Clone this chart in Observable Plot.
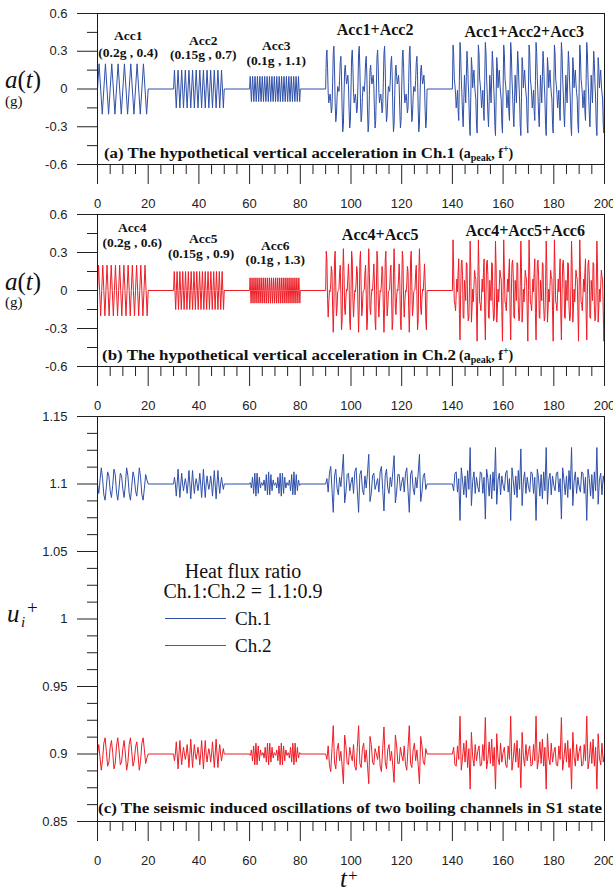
<!DOCTYPE html>
<html><head><meta charset="utf-8">
<script src="https://cdn.jsdelivr.net/npm/d3@7"></script>
<script src="https://cdn.jsdelivr.net/npm/@observablehq/plot@0.6"></script>
<style>
body{margin:0;background:#fff;}
#chart{position:relative;width:613px;height:888px;overflow:hidden;background:#fff;}
#chart svg{position:absolute;left:0;overflow:visible;}
</style></head><body><div id="chart"></div>
<script>
// ---------- axis ticks and labels ----------
const xMajor = [0,20,40,60,80,100,120,140,160,180,200];
const xLabels = ["0","20","40","60","80","100","120","140","160","180","200"];
const xMinor = [5,10,15,25,30,35,45,50,55,65,70,75,85,90,95,105,110,115,125,130,135,145,150,155,165,170,175,185,190,195];
const aMajor = [-0.6,-0.3,0,0.3,0.6];
const aLabels = ["-0.6","-0.3","0","0.3","0.6"];
const aMinor = [-0.45,-0.15,0.15,0.45];
const uMajor = [0.85,0.9,0.95,1,1.05,1.1,1.15];
const uLabels = ["0.85","0.9","0.95","1","1.05","1.1","1.15"];
const uMinor = [0.8625,0.875,0.8875,0.9125,0.925,0.9375,0.9625,0.975,0.9875,1.0125,1.025,1.0375,1.0625,1.075,1.0875,1.1125,1.125,1.1375];

// ---------- panel (a): acceleration in Ch.1 (g), samples spread evenly over each segment ----------
const acc1 = [0,.2,0,-.2,0,.2,0,-.2,0,.2,0,-.2,0,.2,0,-.2,
  0,.2,0,-.2,0,.2,0,-.2,0,.2,0,-.2,0,.2,0,-.2,0];
const acc2 = [0,.15,0,-.15,0,.15,0,-.15,0,.15,0,-.15,0,.15,0,-.15,0,.15,0,-.15,0,.15,0,-.15,0,.15,0,-.15,
  0,.15,0,-.15,0,.15,0,-.15,0,.15,0,-.15,0,.15,0,-.15,0,.15,0,-.15,0,.15,0,-.15,0,.15,0,-.15,0];
const acc3 = [0,.1,0,-.1,0,.1,0,-.1,0,.1,0,-.1,0,.1,0,-.1,0,.1,0,-.1,0,.1,0,-.1,0,.1,0,-.1,0,.1,0,-.1,0,.1,0,-.1,0,.1,0,-.1,0,.1,0,-.1,
  0,.1,0,-.1,0,.1,0,-.1,0,.1,0,-.1,0,.1,0,-.1,0,.1,0,-.1,0,.1,0,-.1,0,.1,0,-.1,0,.1,0,-.1,0,.1,0,-.1,0,.1,0,-.1,0];
const acc12 = [
  0,.25,.31,.17,-.03,-.11,-.07,-.04,-.1,-.19,-.15,.05,.28,.34,.16,-.11,-.26,-.21,-.07,.02,0,-.02,.07,.21,.26,.11,-.16,-.34,-.28,-.05,.15,.19,.1,.04,.07,.11,.03,-.17,-.31,-.25,
  0,.25,.31,.17,-.03,-.11,-.07,-.04,-.1,-.19,-.15,.05,.28,.34,.16,-.11,-.26,-.21,-.07,.02,0,-.02,.07,.21,.26,.11,-.16,-.34,-.28,-.05,.15,.19,.1,.04,.07,.11,.03,-.17,-.31,-.25,
  0,.25,.31,.17,-.03,-.11,-.07,-.04,-.1,-.19,-.15,.05,.28,.34,.16,-.11,-.26,-.21,-.07,.02,0,-.02,.07,.21,.26,.11,-.16,-.34,-.28,-.05,.15,.19,.1,.04,.07,.11,.03,-.17,-.31,-.25,
  0,.25,.31,.17,-.03,-.11,-.07,-.04,-.1,-.19,-.15,.05,.28,.34,.16,-.11,-.26,-.21,-.07,.02,0,-.02,.07,.21,.26,.11,-.16,-.34,-.28,-.05,.15,.19,.1,.04,.07,.11,.03,-.17,-.31,-.25,
  0];
const acc123 = [
  0,.35,.28,.08,.03,-.04,-.15,-.09,-.01,-.17,-.25,.07,.37,.29,.08,-.04,-.2,-.3,-.1,.11,0,-.11,.1,.3,.2,.04,-.08,-.29,-.37,-.07,.25,.17,.01,.09,.15,.04,-.03,-.08,-.28,-.35,
  0,.35,.28,.08,.03,-.04,-.15,-.09,-.01,-.17,-.25,.07,.37,.29,.08,-.04,-.2,-.3,-.1,.11,0,-.11,.1,.3,.2,.04,-.08,-.29,-.37,-.07,.25,.17,.01,.09,.15,.04,-.03,-.08,-.28,-.35,
  0,.35,.28,.08,.03,-.04,-.15,-.09,-.01,-.17,-.25,.07,.37,.29,.08,-.04,-.2,-.3,-.1,.11,0,-.11,.1,.3,.2,.04,-.08,-.29,-.37,-.07,.25,.17,.01,.09,.15,.04,-.03,-.08,-.28,-.35,
  0,.35,.28,.08,.03,-.04,-.15,-.09,-.01,-.17,-.25,.07,.37,.29,.08,-.04,-.2,-.3,-.1,.11,0,-.11,.1,.3,.2,.04,-.08,-.29,-.37,-.07,.25,.17,.01,.09,.15,.04,-.03,-.08,-.28,-.35,
  0,.35,.28,.08,.03,-.04,-.15,-.09,-.01,-.17,-.25,.07,.37,.29,.08,-.04,-.2,-.3,-.1,.11,0,-.11,.1,.3,.2,.04,-.08,-.29,-.37,-.07,.25,.17,.01,.09,.15,.04,-.03,-.08,-.28,-.35,
  0,.35,.28,.08,.03,-.04,-.15,-.09,-.01,-.17,-.25,.07,.37,.29,.08,-.04,-.2,-.3,-.1,.11,0,-.11,.1,.3,.2,.04,-.08,-.29,-.37,-.07,.25,.17,.01,.09,.15,.04,-.03,-.08,-.28,-.35,
  0];

// ---------- panel (b): acceleration in Ch.2 (g) ----------
const acc4 = [0,.2,0,-.2,0,.2,0,-.2,0,.2,0,-.2,0,.2,0,-.2,0,.2,0,-.2,0,.2,0,-.2,
  0,.2,0,-.2,0,.2,0,-.2,0,.2,0,-.2,0,.2,0,-.2,0,.2,0,-.2,0,.2,0,-.2,0];
const acc5 = [0,.15,0,-.15,0,.15,0,-.15,0,.15,0,-.15,0,.15,0,-.15,0,.15,0,-.15,0,.15,0,-.15,0,.15,0,-.15,0,.15,0,-.15,0,.15,0,-.15,
  0,.15,0,-.15,0,.15,0,-.15,0,.15,0,-.15,0,.15,0,-.15,0,.15,0,-.15,0,.15,0,-.15,0,.15,0,-.15,0,.15,0,-.15,0,.15,0,-.15,0];
const acc6 = [0,.1,0,-.1,0,.1,0,-.1,0,.1,0,-.1,0,.1,0,-.1,0,.1,0,-.1,0,.1,0,-.1,0,.1,0,-.1,0,.1,0,-.1,0,.1,0,-.1,0,.1,0,-.1,0,.1,0,-.1,0,.1,0,-.1,0,.1,0,-.1,
  0,.1,0,-.1,0,.1,0,-.1,0,.1,0,-.1,0,.1,0,-.1,0,.1,0,-.1,0,.1,0,-.1,0,.1,0,-.1,0,.1,0,-.1,0,.1,0,-.1,0,.1,0,-.1,0,.1,0,-.1,0,.1,0,-.1,0,.1,0,-.1,0];
const acc45 = [
  0,.31,.24,-.07,-.21,-.09,0,-.01,.05,.19,.15,-.14,-.33,-.13,.24,.31,.03,-.2,-.14,-.01,0,.01,.14,.2,-.03,-.31,-.24,.13,.33,.14,-.15,-.19,-.05,.01,0,.09,.21,.07,-.24,-.31,
  0,.31,.24,-.07,-.21,-.09,0,-.01,.05,.19,.15,-.14,-.33,-.13,.24,.31,.03,-.2,-.14,-.01,0,.01,.14,.2,-.03,-.31,-.24,.13,.33,.14,-.15,-.19,-.05,.01,0,.09,.21,.07,-.24,-.31,
  0,.31,.24,-.07,-.21,-.09,0,-.01,.05,.19,.15,-.14,-.33,-.13,.24,.31,.03,-.2,-.14,-.01,0,.01,.14,.2,-.03,-.31,-.24,.13,.33,.14,-.15,-.19,-.05,.01,0,.09,.21,.07,-.24,-.31,
  0,.31,.24,-.07,-.21,-.09,0,-.01,.05,.19,.15,-.14,-.33,-.13,.24,.31,.03,-.2,-.14,-.01,0,.01,.14,.2,-.03,-.31,-.24,.13,.33,.14,-.15,-.19,-.05,.01,0,.09,.21,.07,-.24,-.31,
  0];
const acc456 = [
  0,.4,.16,-.09,-.11,-.16,-.03,.09,-.01,.14,.25,-.18,-.39,-.03,.21,.24,.12,-.21,-.22,.08,0,-.08,.22,.21,-.12,-.24,-.21,.03,.39,.18,-.25,-.14,.01,-.09,.03,.16,.11,.09,-.16,-.4,
  0,.4,.16,-.09,-.11,-.16,-.03,.09,-.01,.14,.25,-.18,-.39,-.03,.21,.24,.12,-.21,-.22,.08,0,-.08,.22,.21,-.12,-.24,-.21,.03,.39,.18,-.25,-.14,.01,-.09,.03,.16,.11,.09,-.16,-.4,
  0,.4,.16,-.09,-.11,-.16,-.03,.09,-.01,.14,.25,-.18,-.39,-.03,.21,.24,.12,-.21,-.22,.08,0,-.08,.22,.21,-.12,-.24,-.21,.03,.39,.18,-.25,-.14,.01,-.09,.03,.16,.11,.09,-.16,-.4,
  0,.4,.16,-.09,-.11,-.16,-.03,.09,-.01,.14,.25,-.18,-.39,-.03,.21,.24,.12,-.21,-.22,.08,0,-.08,.22,.21,-.12,-.24,-.21,.03,.39,.18,-.25,-.14,.01,-.09,.03,.16,.11,.09,-.16,-.4,
  0,.4,.16,-.09,-.11,-.16,-.03,.09,-.01,.14,.25,-.18,-.39,-.03,.21,.24,.12,-.21,-.22,.08,0,-.08,.22,.21,-.12,-.24,-.21,.03,.39,.18,-.25,-.14,.01,-.09,.03,.16,.11,.09,-.16,-.4,
  0,.4,.16,-.09,-.11,-.16,-.03,.09,-.01,.14,.25,-.18,-.39,-.03,.21,.24,.12,-.21,-.22,.08,0,-.08,.22,.21,-.12,-.24,-.21,.03,.39,.18,-.25,-.14,.01,-.09,.03,.16,.11,.09,-.16,-.4,
  0];

// ---------- panel (c): u_i+ deviations from the mean level, in thousandths ----------
const ch1Mean = 1.1, ch2Mean = 0.9;
const ch1s1 = [0,-7,3,12,4,-8,-12,-2,9,6,-5,-10,-1,11,7,-6,-12,-3,8,6,-4,-10,0,12,6,-7,-12,-2,9,5,-5,-9,1,12,5,-8,-12,-3,7,3,0];
const ch1s2 = [0,5,0,-9,0,11,0,-10,0,8,0,-5,0,4,0,-7,0,10,0,-11,0,10,0,-7,0,4,0,-5,0,8,0,-10,0,11,0,-10,0,6,0,-4,0,6,0,-9,0,10,0,-11,0,10,0,-7,0,5,0,-4,0];
const ch1s3 = [
  0,1,0,-3,0,5,0,-7,0,8,0,-9,0,8,0,-7,0,5,0,-3,0,1,
  0,-1,0,3,0,-5,0,7,0,-8,0,9,0,-8,0,7,0,-5,0,3,0,-1,
  0,1,0,-3,0,5,0,-7,0,8,0,-9,0,8,0,-7,0,5,0,-3,0,1,
  0,-1,0,3,0,-5,0,7,0,-8,0,9,0,-8,0,7,0,-5,0,3,0,-1,
  0];
const ch1s4 = [
  0,4,-6,8,13,-4,-21,6,11,-3,-8,5,-2,9,22,-14,-6,7,8,-5,
  1,5,-7,9,12,-5,-21,7,10,-4,-8,6,-3,8,22,-13,-7,6,8,-4,
  0,4,-6,9,13,-4,-20,6,11,-3,-7,5,-2,9,21,-14,-6,7,7,-5,
  1,5,-6,8,12,-5,-21,7,10,-3,-8,5,-3,8,22,-13,-6,6,8,-4,
  0];
const ch1s5 = [
  0,-5,8,9,-6,4,-27,12,3,-8,6,-10,10,-4,27,-16,2,9,-7,5,
  -2,-6,9,8,-7,5,-26,11,4,-9,7,-11,9,-5,27,-15,3,8,-8,6,
  -1,-5,8,10,-6,4,-27,12,3,-8,6,-10,10,-4,26,-16,2,9,-7,5,
  -2,-6,9,8,-7,5,-27,11,4,-9,7,-11,9,-5,27,-15,3,8,-8,6,
  -1,-5,8,9,-6,4,-26,12,3,-8,6,-10,10,-4,27,-16,2,9,-7,5,
  -2,-6,9,8,-7,5,-27,11,4,-9,7,-11,9,-5,27,-15,3,8,-8,6,
  0];
const ch2s1 = [0,7,-3,-12,-4,8,12,2,-9,-6,5,10,1,-11,-7,6,12,3,-8,-6,4,10,0,-12,-6,7,12,2,-9,-5,5,9,-1,-12,-5,8,12,3,-7,-3,0];
const ch2s2 = [0,-5,0,9,0,-11,0,10,0,-8,0,5,0,-4,0,7,0,-10,0,11,0,-10,0,7,0,-4,0,5,0,-8,0,10,0,-11,0,10,0,-6,0,4,0,-6,0,9,0,-10,0,11,0,-10,0,7,0,-5,0,4,0];
const ch2s3 = [
  0,-1,0,3,0,-5,0,6,0,-8,0,8,0,-8,0,6,0,-5,0,3,0,-1,
  0,1,0,-3,0,5,0,-6,0,8,0,-8,0,8,0,-6,0,5,0,-3,0,1,
  0,-1,0,3,0,-5,0,6,0,-8,0,8,0,-8,0,6,0,-5,0,3,0,-1,
  0,1,0,-3,0,5,0,-6,0,8,0,-8,0,8,0,-6,0,5,0,-3,0,1,
  0];
const ch2s4 = [
  0,-4,6,-8,-13,4,21,-6,-11,3,8,-5,2,-9,-22,14,6,-7,-8,5,
  -1,-5,7,-9,-12,5,21,-7,-10,4,8,-6,3,-8,-22,13,7,-6,-8,4,
  0,-4,6,-9,-13,4,20,-6,-11,3,7,-5,2,-9,-21,14,6,-7,-7,5,
  -1,-5,6,-8,-12,5,21,-7,-10,3,8,-5,3,-8,-22,13,6,-6,-8,4,
  0];
const ch2s5 = [
  0,5,-8,-9,6,-4,28,-12,-3,8,-6,10,-10,4,-26,16,-2,-9,7,-5,
  2,6,-9,-8,7,-5,27,-11,-4,9,-7,11,-9,5,-26,15,-3,-8,8,-6,
  1,5,-8,-10,6,-4,28,-12,-3,8,-6,10,-10,4,-25,16,-2,-9,7,-5,
  2,6,-9,-8,7,-5,28,-11,-4,9,-7,11,-9,5,-26,15,-3,-8,8,-6,
  1,5,-8,-9,6,-4,27,-12,-3,8,-6,10,-10,4,-26,16,-2,-9,7,-5,
  2,6,-9,-8,7,-5,28,-11,-4,9,-7,11,-9,5,-26,15,-3,-8,8,-6,
  0];

// segment time windows [start, end]
const segTimes = [[0,20],[30,50],[60,80],[90,130],[140,200]];

// text annotations (data coordinates)
const annA = [
  {t:12.1, v:.427, s:"Acc1", big:0}, {t:12.1, v:.292, s:"(0.2g , 0.4)", big:0},
  {t:41.7, v:.387, s:"Acc2", big:0}, {t:41.7, v:.276, s:"(0.15g , 0.7)", big:0},
  {t:70.5, v:.347, s:"Acc3", big:0}, {t:70.5, v:.228, s:"(0.1g , 1.1)", big:0},
  {t:109.5, v:.467, s:"Acc1+Acc2", big:1}, {t:168.3, v:.451, s:"Acc1+Acc2+Acc3", big:1}
];
const annB = [
  {t:13.7, v:.497, s:"Acc4", big:0}, {t:13.7, v:.379, s:"(0.2g , 0.6)", big:0},
  {t:41.7, v:.41, s:"Acc5", big:0}, {t:40.9, v:.292, s:"(0.15g , 0.9)", big:0},
  {t:70.1, v:.355, s:"Acc6", big:0}, {t:70.1, v:.245, s:"(0.1g , 1.3)", big:0},
  {t:111.5, v:.442, s:"Acc4+Acc5", big:1}, {t:168.7, v:.474, s:"Acc4+Acc5+Acc6", big:1}
];

const BLUE = "#3050a8", RED = "#ee1c25";

function series(segs, mean, unit) {
  const out = [];
  segs.forEach((vals, k) => {
    const [t0, t1] = segTimes[k], n = vals.length - 1;
    vals.forEach((d, i) => out.push({t: t0 + (t1 - t0) * i / n, v: mean + d * unit}));
  });
  return out;
}
const dataA = series([acc1, acc2, acc3, acc12, acc123], 0, 1);
const dataB = series([acc4, acc5, acc6, acc45, acc456], 0, 1);
const dataC1 = series([ch1s1, ch1s2, ch1s3, ch1s4, ch1s5], ch1Mean, 0.001);
const dataC2 = series([ch2s1, ch2s2, ch2s3, ch2s4, ch2s5], ch2Mean, 0.001);

const fmt = (ticks, labels) => d => labels[ticks.indexOf(d)];
const serif = "'Liberation Serif','Times New Roman',serif";

function panel({top, height, mt, mb, domain, yMajor, yLabels, yMinor, lines, ann}) {
  const marks = [
    Plot.axisX({anchor: "bottom", ticks: xMajor, tickSize: 20, tickPadding: 14, tickFormat: fmt(xMajor, xLabels), label: null}),
    Plot.axisX({anchor: "bottom", ticks: xMinor, tickSize: 10, tickFormat: () => "", label: null}),
    Plot.axisY({anchor: "left", ticks: yMajor, tickSize: 20, tickPadding: 10, tickFormat: fmt(yMajor, yLabels), label: null}),
    Plot.axisY({anchor: "left", ticks: yMinor, tickSize: 10, tickFormat: () => "", label: null}),
    ...lines.map(([d, c]) => Plot.line(d, {x: "t", y: "v", stroke: c, strokeWidth: 1})),
    Plot.frame({stroke: "#1a1a1a", strokeWidth: 1})
  ];
  if (ann) {
    marks.push(Plot.text(ann.filter(d => !d.big), {x: "t", y: "v", text: "s", fontFamily: serif, fontWeight: "bold", fontSize: 13.5, fill: "#111"}));
    marks.push(Plot.text(ann.filter(d => d.big), {x: "t", y: "v", text: "s", fontFamily: serif, fontWeight: "bold", fontSize: 16, fill: "#111"}));
  }
  const svg = Plot.plot({
    width: 613, height,
    marginLeft: 97, marginRight: 9, marginTop: mt, marginBottom: mb,
    x: {domain: [0, 200], label: null},
    y: {domain, label: null},
    style: {background: "none", fontFamily: "'Liberation Sans',Arial,sans-serif", fontSize: "13px", color: "#222", overflow: "visible"},
    marks
  });
  svg.style.top = top + "px";
  return svg;
}

const root = document.getElementById("chart");
root.appendChild(panel({top: 0, height: 213, mt: 13, mb: 49, domain: [-0.6, 0.6], yMajor: aMajor, yLabels: aLabels, yMinor: aMinor, lines: [[dataA, BLUE]], ann: annA}));
root.appendChild(panel({top: 205, height: 208, mt: 9, mb: 47, domain: [-0.6, 0.6], yMajor: aMajor, yLabels: aLabels, yMinor: aMinor, lines: [[dataB, RED]], ann: annB}));
root.appendChild(panel({top: 405, height: 483, mt: 11, mb: 67, domain: [0.85, 1.15], yMajor: uMajor, yLabels: uLabels, yMinor: uMinor, lines: [[dataC1, BLUE], [dataC2, RED]]}));

// free text: titles, axis titles, legend
const paren = `(a<tspan font-size="10" dy="3">peak</tspan><tspan dy="-3">, f</tspan><tspan font-size="10" dy="-6">+</tspan><tspan dy="6">)</tspan>`;
const ov = `
<svg width="613" height="888" style="top:0;pointer-events:none" font-family="${serif}" fill="#111">
  <text x="5" y="88" font-size="25"><tspan font-style="italic">a</tspan>(<tspan font-style="italic">t</tspan>)</text>
  <text x="5" y="106" font-size="15">(g)</text>
  <text x="5" y="290" font-size="25"><tspan font-style="italic">a</tspan>(<tspan font-style="italic">t</tspan>)</text>
  <text x="5" y="307" font-size="15">(g)</text>
  <text x="7" y="622" font-size="25" font-style="italic">u</text>
  <text x="21" y="627" font-size="15" font-style="italic">i</text>
  <text x="27" y="614" font-size="19">+</text>
  <text x="340" y="887" font-size="25" font-style="italic">t</text>
  <text x="348" y="881" font-size="17">+</text>
  <text x="104" y="158" font-size="15.5" font-weight="bold" textLength="351" lengthAdjust="spacingAndGlyphs">(a) The hypothetical vertical acceleration in Ch.1</text>
  <text x="459" y="158" font-size="14" font-weight="bold">${paren}</text>
  <text x="102" y="360" font-size="15.5" font-weight="bold" textLength="354" lengthAdjust="spacingAndGlyphs">(b) The hypothetical vertical acceleration in Ch.2</text>
  <text x="459" y="360" font-size="14" font-weight="bold">${paren}</text>
  <text x="98" y="813" font-size="15.5" font-weight="bold" textLength="504" lengthAdjust="spacingAndGlyphs">(c) The seismic induced oscillations of two boiling channels in S1 state</text>
  <text x="243" y="578" font-size="20" text-anchor="middle">Heat flux ratio</text>
  <text x="243" y="598" font-size="20" text-anchor="middle">Ch.1:Ch.2 = 1.1:0.9</text>
  <line x1="165" x2="226" y1="618.5" y2="618.5" stroke="${BLUE}" stroke-width="1.2"/>
  <text x="235" y="625" font-size="19">Ch.1</text>
  <line x1="165" x2="226" y1="645.5" y2="645.5" stroke="${RED}" stroke-width="1.2"/>
  <text x="235" y="652" font-size="19">Ch.2</text>
</svg>`;
root.insertAdjacentHTML("beforeend", ov);
</script></body></html>
